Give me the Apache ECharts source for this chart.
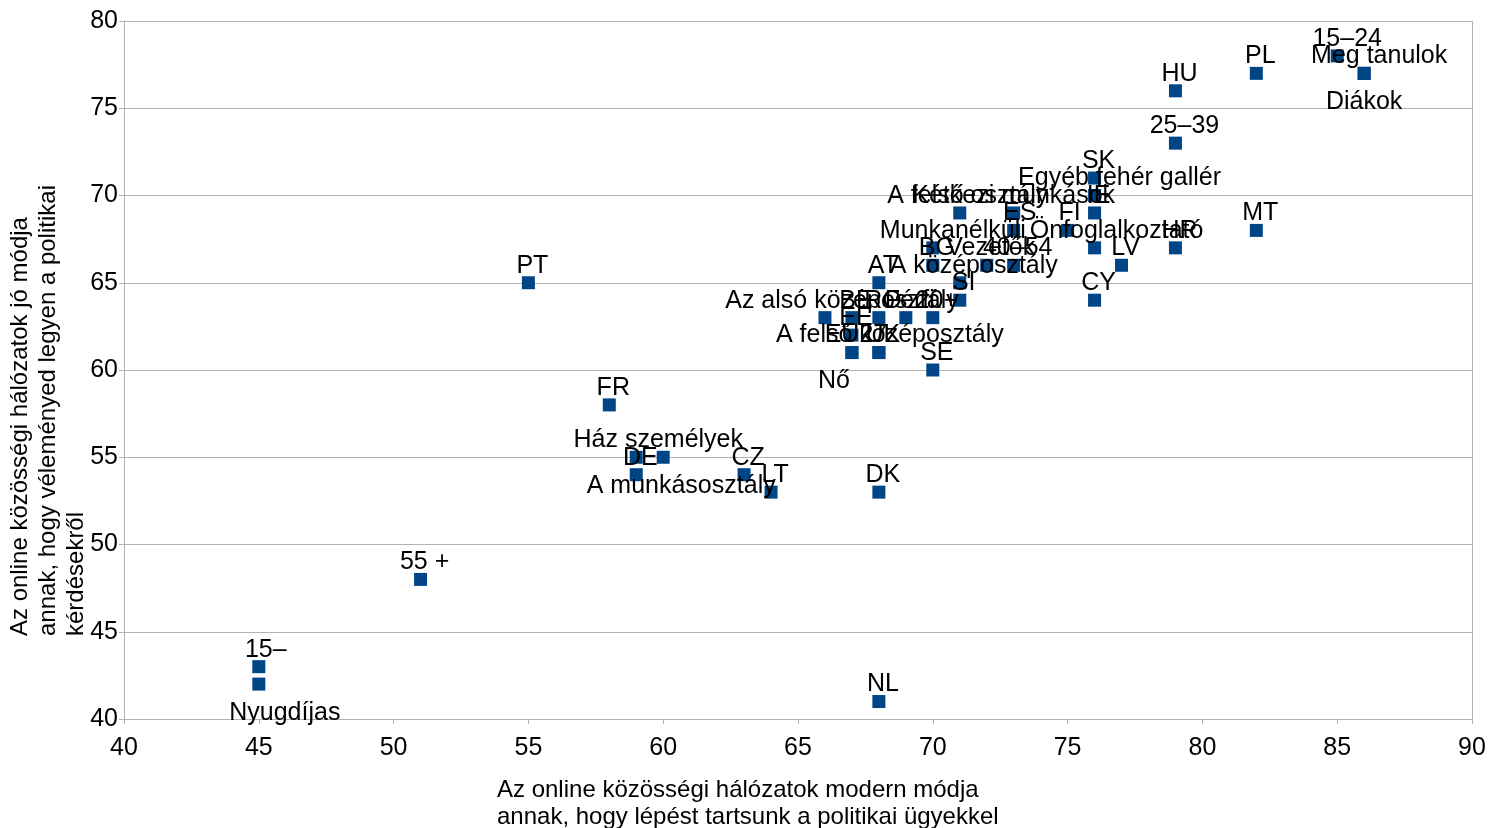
<!DOCTYPE html>
<html>
<head>
<meta charset="utf-8">
<script src="https://cdn.jsdelivr.net/npm/echarts@6/dist/echarts.min.js"></script>
<style>
html,body{margin:0;padding:0;background:#fff;}
#c{width:1494px;height:828px;}
</style>
</head>
<body>
<div id="c"></div>
<script>
// ---- data ----
const names = ["15–24","Meg tanulok","Diákok","PL","HU","25–39","SK","Egyéb fehér gallér","IE",
  "A felső osztály","Kétkezi munkások","ES","FI","MT","Munkanélküli","Önfoglalkoztató","HR",
  "BG","Vezetők","40–54","LV","A középosztály","AT","PT","SI","CY","Az alsó középosztály",
  "BE","RO","Férfi","20+","EE","EU27","Nő","UK","A felső középosztály","SE","FR",
  "Ház személyek","A munkásosztály","DE","CZ","LT","DK","55 +","15–","Nyugdíjas","NL"];
const xValues = [85,86,86,82,79,79,76,76,76,
  71,73,73,75,82,70,76,79,
  70,72,73,77,71,68,55,71,76,66,
  67,68,69,70,67,67,67,68,68,70,58,
  59,60,59,63,64,68,51,45,45,68];
const yValues = [78,77,77,77,76,73,71,70,69,
  69,69,68,68,68,67,67,67,
  66,66,66,66,65,65,65,64,64,63,
  63,63,63,63,62,61,61,61,61,60,58,
  55,55,54,54,53,53,48,43,42,41];
const xTicks = {min:40, max:90, interval:5};
const yTicks = {min:40, max:80, interval:5};
const xTitle = "Az online közösségi hálózatok modern módja\nannak, hogy lépést tartsunk a politikai ügyekkel";
const yTitle = "Az online közösségi hálózatok jó módja\nannak, hogy véleményed legyen a politikai\nkérdésekről";

// ---- label placement (style only) ----
const ABOVE = -17, BELOW = 29;
const labelShift = {
  "15–24":[10,ABOVE], "Meg tanulok":[15,ABOVE], "Diákok":[0,BELOW], "25–39":[9,ABOVE],
  "Egyéb fehér gallér":[25,ABOVE], "A felső osztály":[8,ABOVE], "Kétkezi munkások":[0,ABOVE],
  "Munkanélküli":[20,ABOVE], "Önfoglalkoztató":[22,ABOVE], "A középosztály":[14,ABOVE],
  "Az alsó középosztály":[17,ABOVE], "A felső középosztály":[11,ABOVE], "Nő":[-18,BELOW],
  "Ház személyek":[22,ABOVE], "A munkásosztály":[18,BELOW], "15–":[7,ABOVE],
  "Nyugdíjas":[26,BELOW], "ES":[6,ABOVE], "FI":[2,ABOVE]
};

const FONT = "'Liberation Sans', Arial, sans-serif";
const SYM = 13;
const data = names.map((n,i)=>{
  const s = labelShift[n] || [4,ABOVE];
  return {
    name:n, value:[xValues[i], yValues[i]],
    label:{position:[SYM/2 + s[0], SYM/2 + s[1]], align:'center', verticalAlign:'middle'},
    labelLine:{show:false}
  };
});

const chart = echarts.init(document.getElementById('c'), null, {renderer:'canvas'});
chart.setOption({
  animation:false,
  backgroundColor:'#ffffff',
  grid:{left:124, top:21, right:22, bottom:109, containLabel:false},
  xAxis:{
    type:'value', min:xTicks.min, max:xTicks.max, interval:xTicks.interval,
    axisLine:{show:true, lineStyle:{color:'#b3b3b3', width:1}},
    axisTick:{show:true, length:5, lineStyle:{color:'#b3b3b3'}},
    axisLabel:{color:'#000', fontSize:25, fontFamily:FONT, margin:17},
    splitLine:{show:false}
  },
  yAxis:{
    type:'value', min:yTicks.min, max:yTicks.max, interval:yTicks.interval,
    axisLine:{show:true, lineStyle:{color:'#b3b3b3', width:1}},
    axisTick:{show:true, length:5, lineStyle:{color:'#b3b3b3'}},
    axisLabel:{color:'#000', fontSize:25, fontFamily:FONT, margin:6},
    splitLine:{show:true, lineStyle:{color:'#b3b3b3', width:1}}
  },
  graphic:[
    {type:'line', shape:{x1:1472.5, y1:21, x2:1472.5, y2:719}, style:{stroke:'#b3b3b3', lineWidth:1}, silent:true},
    {type:'text', x:497, y:777, style:{text:xTitle, fill:'#000', font:"24px "+FONT, lineHeight:27, align:'left', verticalAlign:'top', textAlign:'left', textVerticalAlign:'top'}},
    {type:'text', x:48, y:636, rotation:Math.PI/2, style:{text:yTitle, fill:'#000', font:"24px "+FONT, lineHeight:28, align:'left', verticalAlign:'middle', textAlign:'left', textVerticalAlign:'middle'}}
  ],
  series:[{
    type:'scatter',
    symbol:'rect', symbolSize:SYM,
    itemStyle:{color:'#004586', opacity:1},
    label:{show:true, formatter:'{b}', color:'#000000', opacity:1, fontSize:25, fontFamily:FONT, textBorderWidth:0},
    labelLine:{show:false, length:0, length2:0},
    emphasis:{disabled:true},
    data:data
  }]
});
</script>
</body>
</html>
